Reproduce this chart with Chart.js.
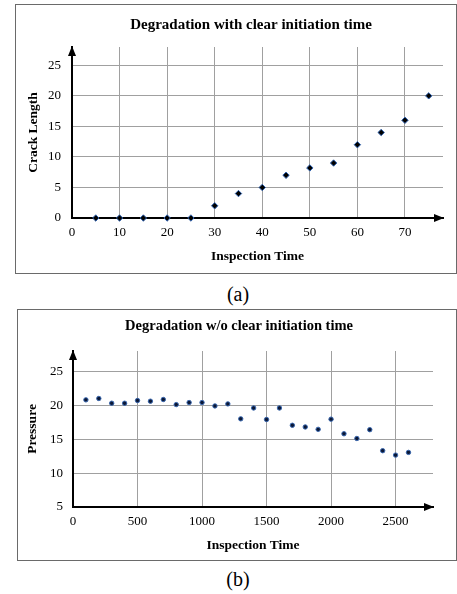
<!DOCTYPE html>
<html>
<head>
<meta charset="utf-8">
<script src="https://cdn.jsdelivr.net/npm/chart.js@4.4.0/dist/chart.umd.min.js"></script>
<style>
  body { margin: 0; width: 457px; height: 594px; overflow: hidden; position: relative; background: #fff; }
  .box { position: absolute; border: 1px solid #6a6a6a; overflow: hidden; background: #fff; }
  #boxA { left: 15px; top: 4px; width: 440px; height: 268px; }
  #boxB { left: 17px; top: 309px; width: 438px; height: 250px; }
  .box canvas { position: absolute; left: 0; top: 0; }
  .cap { position: absolute; width: 60px; margin-left: -30px; text-align: center;
         font: 20px "Liberation Serif", "Times New Roman", serif; line-height: 22px; color: #000; }
</style>
</head>
<body>
<div class="box" id="boxA"><canvas id="chartA" width="470" height="268"></canvas></div>
<div class="cap" style="left:238px; top:283px;">(a)</div>
<div class="box" id="boxB"><canvas id="chartB" width="442" height="250"></canvas></div>
<div class="cap" style="left:238px; top:568px;">(b)</div>
<script>
// chart (a)
const timeA = [5, 10, 15, 20, 25, 30, 35, 40, 45, 50, 55, 60, 65, 70, 75];
const crackA = [0, 0, 0, 0, 0, 2, 4, 5, 7, 8.2, 9, 12, 14, 16, 20];
const xTicksA = [0, 10, 20, 30, 40, 50, 60, 70];
const yTicksA = [0, 5, 10, 15, 20, 25];

// chart (b)
const timeB = [100, 200, 300, 400, 500, 600, 700, 800, 900, 1000, 1100, 1200, 1300,
               1400, 1500, 1600, 1700, 1800, 1900, 2000, 2100, 2200, 2300, 2400, 2500, 2600];
const pressureB = [20.8, 21.0, 20.3, 20.3, 20.7, 20.6, 20.85, 20.1, 20.4, 20.4, 19.9, 20.2, 18.0,
                   19.6, 17.9, 19.6, 17.05, 16.8, 16.45, 17.95, 15.8, 15.1, 16.4, 13.3, 12.65, 13.05];
const xTicksB = [0, 500, 1000, 1500, 2000, 2500];
const yTicksB = [5, 10, 15, 20, 25];

const serif = "'Liberation Serif', 'Times New Roman', serif";
const gridColor = '#a0a0a0';

// arrow heads on the ends of both axes
const axisArrows = {
    id: 'axisArrows',
    afterDraw(chart) {
        const ctx = chart.ctx;
        const a = chart.chartArea;
        ctx.save();
        ctx.fillStyle = '#000';
        ctx.beginPath();
        ctx.moveTo(a.left, a.top - 1);
        ctx.lineTo(a.left - 4, a.top + 9);
        ctx.lineTo(a.left + 4, a.top + 9);
        ctx.closePath();
        ctx.fill();
        ctx.beginPath();
        ctx.moveTo(a.right + 1, a.bottom);
        ctx.lineTo(a.right - 9, a.bottom - 4);
        ctx.lineTo(a.right - 9, a.bottom + 4);
        ctx.closePath();
        ctx.fill();
        ctx.restore();
    }
};

function makeChart(id, cfg) {
    const ctx = document.getElementById(id).getContext('2d');
    return new Chart(ctx, {
        type: 'scatter',
        data: {
            datasets: [{
                data: cfg.xs.map((x, i) => ({ x: x, y: cfg.ys[i] })),
                pointStyle: cfg.pointStyle,
                pointRadius: cfg.radius,
                backgroundColor: cfg.fill,
                borderColor: cfg.edge,
                borderWidth: 1,
                clip: false
            }]
        },
        options: {
            responsive: false,
            animation: false,
            devicePixelRatio: 1,
            layout: { padding: 0 },
            plugins: {
                legend: { display: false },
                tooltip: { enabled: false },
                title: {
                    display: true,
                    text: cfg.title,
                    color: '#000',
                    font: { family: serif, size: cfg.titleSize, weight: 'bold' },
                    padding: cfg.titlePad
                }
            },
            scales: {
                x: {
                    type: 'linear',
                    min: cfg.xMin, max: cfg.xMax,
                    afterBuildTicks: s => { s.ticks = cfg.xTicks.map(v => ({ value: v })); },
                    afterFit: s => { s.height = cfg.xHeight; },
                    grid: { color: gridColor, drawTicks: false },
                    border: { color: '#000', width: 2 },
                    ticks: {
                        color: '#000', padding: 7, maxRotation: 0,
                        font: { family: serif, size: 13 },
                        callback: v => String(v)
                    },
                    title: {
                        display: true, text: 'Inspection Time', color: '#000',
                        font: { family: serif, size: 13.5, weight: 'bold' },
                        padding: { top: 0, bottom: cfg.xTitleBottom }
                    }
                },
                y: {
                    type: 'linear',
                    min: cfg.yMin, max: cfg.yMax,
                    afterBuildTicks: s => { s.ticks = cfg.yTicks.map(v => ({ value: v })); },
                    afterFit: s => { s.width = cfg.yWidth; },
                    grid: { color: gridColor, drawTicks: false },
                    border: { color: '#000', width: 2 },
                    ticks: {
                        color: '#000', padding: cfg.yTickPad,
                        font: { family: serif, size: 13 },
                        callback: v => String(v)
                    },
                    title: {
                        display: true, text: cfg.yTitle, color: '#000',
                        font: { family: serif, size: 13.5, weight: 'bold' },
                        padding: { top: cfg.yTitleTop, bottom: 0 }
                    }
                },
                yR: {
                    type: 'linear',
                    position: 'right',
                    grid: { display: false },
                    border: { display: false },
                    ticks: { display: false },
                    afterFit: s => { s.width = cfg.rightGap; }
                }
            }
        },
        plugins: [axisArrows]
    });
}

makeChart('chartA', {
    xs: timeA, ys: crackA, xTicks: xTicksA, yTicks: yTicksA,
    xMin: 0, xMax: 78, yMin: 0, yMax: 28,
    title: 'Degradation with clear initiation time', titleSize: 15,
    yTitle: 'Crack Length',
    pointStyle: 'rectRot', radius: 3.2, fill: '#000', edge: '#2f62b0',
    titlePad: { top: 11, bottom: 13 },
    xHeight: 55, yWidth: 56, rightGap: 43,
    xTitleBottom: 8, yTitleTop: 9, yTickPad: 11
});

makeChart('chartB', {
    xs: timeB, ys: pressureB, xTicks: xTicksB, yTicks: yTicksB,
    xMin: 0, xMax: 2790, yMin: 5, yMax: 28,
    title: 'Degradation w/o clear initiation time', titleSize: 14.5,
    yTitle: 'Pressure',
    pointStyle: 'circle', radius: 2.2, fill: '#0b1836', edge: '#3a68b0',
    titlePad: { top: 7.3, bottom: 16.3 },
    xHeight: 53, yWidth: 55, rightGap: 27,
    xTitleBottom: 6, yTitleTop: 6, yTickPad: 10
});
</script>
</body>
</html>
